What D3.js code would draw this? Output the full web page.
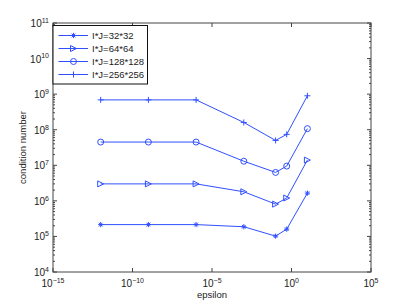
<!DOCTYPE html>
<html>
<head>
<meta charset="utf-8">
<script src="https://cdn.jsdelivr.net/npm/d3@7"></script>
<style>
  body { margin: 0; background: #fff; }
  text { font-family: "Liberation Sans", Arial, sans-serif; }
</style>
</head>
<body>
<div id="chart"></div>
<script>
// epsilon values shared by every series
var epsilon = [1e-12, 1e-9, 1e-6, 1e-3, 1e-1, 0.5, 10];

// condition number per grid size
var cond_32 = [2.15e5, 2.15e5, 2.15e5, 1.87e5, 1.02e5, 1.6e5, 1.65e6];
var cond_64 = [3.0e6, 3.0e6, 3.0e6, 1.8e6, 8.1e5, 1.2e6, 1.4e7];
var cond_128 = [4.5e7, 4.5e7, 4.5e7, 1.3e7, 6.3e6, 9.5e6, 1.07e8];
var cond_256 = [6.9e8, 6.9e8, 6.9e8, 1.6e8, 5.0e7, 7.4e7, 9.0e8];

var series_labels = ['I*J=32*32', 'I*J=64*64', 'I*J=128*128', 'I*J=256*256'];
var series_markers = ['star', 'triangle', 'circle', 'plus'];

var x_ticks = [1e-15, 1e-10, 1e-5, 1e0, 1e5];
var y_ticks = [1e4, 1e5, 1e6, 1e7, 1e8, 1e9, 1e10, 1e11];

var W = 409, H = 307;
var margin = { left: 53, right: 38, top: 23, bottom: 35 };
var plot_w = W - margin.left - margin.right;
var plot_h = H - margin.top - margin.bottom;
var line_color = '#3050ff';
var axis_color = '#444';

var svg = d3.select('#chart').append('svg')
  .attr('width', W).attr('height', H);
var g = svg.append('g')
  .attr('transform', 'translate(' + margin.left + ',' + margin.top + ')');

var x = d3.scaleLog().domain([1e-15, 1e5]).range([0, plot_w]);
var y = d3.scaleLog().domain([1e4, 1e11]).range([plot_h, 0]);

// Superscript label like 10^-5
function pow_label(sel, v){
  var e = Math.round(Math.log10(v));
  sel.text(null);
  sel.append('tspan').text('10');
  sel.append('tspan')
    .attr('dy', '-0.6em')
    .style('font-size', '7px')
    .text(e < 0 ? '\u2212' + (-e) : e);
}

// Minor tick values for y (2..9 per decade)
var y_minor = [];
for( var d = 4; d < 11; d++ ){
  for( var k = 2; k < 10; k++ ){ y_minor.push(k * Math.pow(10, d)); }
}

// Axis box
g.append('rect')
  .attr('width', plot_w).attr('height', plot_h)
  .attr('fill', 'none').attr('stroke', axis_color).attr('stroke-width', 1);

// Y ticks, left and right, pointing in
var tick_g = g.append('g').attr('stroke', axis_color).attr('stroke-width', 1);
y_ticks.forEach(function(v){
  tick_g.append('line').attr('x1', 0).attr('x2', 4).attr('y1', y(v)).attr('y2', y(v));
  tick_g.append('line').attr('x1', plot_w).attr('x2', plot_w - 4).attr('y1', y(v)).attr('y2', y(v));
});
y_minor.forEach(function(v){
  tick_g.append('line').attr('x1', 0).attr('x2', 2).attr('y1', y(v)).attr('y2', y(v));
  tick_g.append('line').attr('x1', plot_w).attr('x2', plot_w - 2).attr('y1', y(v)).attr('y2', y(v));
});
x_ticks.forEach(function(v){
  tick_g.append('line').attr('x1', x(v)).attr('x2', x(v)).attr('y1', plot_h).attr('y2', plot_h - 4);
  tick_g.append('line').attr('x1', x(v)).attr('x2', x(v)).attr('y1', 0).attr('y2', 4);
});

// Tick labels
g.selectAll('.ylab').data(y_ticks).enter().append('text')
  .attr('class', 'ylab')
  .attr('x', -4).attr('y', function(d){ return y(d) + 4; })
  .attr('text-anchor', 'end')
  .style('font-size', '10px').attr('fill', '#222')
  .each(function(d){ pow_label(d3.select(this), d); });

g.selectAll('.xlab').data(x_ticks).enter().append('text')
  .attr('class', 'xlab')
  .attr('x', function(d){ return x(d); }).attr('y', plot_h + 15)
  .attr('text-anchor', 'middle')
  .style('font-size', '10px').attr('fill', '#222')
  .each(function(d){ pow_label(d3.select(this), d); });

// Axis titles
g.append('text')
  .attr('x', plot_w / 2).attr('y', plot_h + 26)
  .attr('text-anchor', 'middle').style('font-size', '9.5px').attr('fill', '#222')
  .text('epsilon');
g.append('text')
  .attr('transform', 'translate(' + (-27) + ',' + (plot_h / 2) + ') rotate(-90)')
  .attr('text-anchor', 'middle').style('font-size', '9.5px').attr('fill', '#222')
  .text('condition number');

// Marker drawing
function draw_marker(sel, type, cx, cy){
  var s = 3;
  if( type == 'star' ){
    var t = 2.6;
    [[-t,0,t,0],[0,-t,0,t],[-t*0.7,-t*0.7,t*0.7,t*0.7],[-t*0.7,t*0.7,t*0.7,-t*0.7]].forEach(function(l){
      sel.append('line').attr('x1', cx+l[0]).attr('y1', cy+l[1]).attr('x2', cx+l[2]).attr('y2', cy+l[3]);
    });
  } else if( type == 'plus' ){
    sel.append('line').attr('x1', cx-s).attr('x2', cx+s).attr('y1', cy).attr('y2', cy);
    sel.append('line').attr('x1', cx).attr('x2', cx).attr('y1', cy-s).attr('y2', cy+s);
  } else if( type == 'circle' ){
    sel.append('circle').attr('cx', cx).attr('cy', cy).attr('r', s).attr('fill', 'none');
  } else if( type == 'triangle' ){
    sel.append('path')
      .attr('d', 'M' + (cx-s) + ',' + (cy-s) + 'L' + (cx+s) + ',' + cy + 'L' + (cx-s) + ',' + (cy+s) + 'Z')
      .attr('fill', 'none');
  }
}

var all_series = [cond_32, cond_64, cond_128, cond_256];
var line = d3.line()
  .x(function(d){ return x(d[0]); })
  .y(function(d){ return y(d[1]); });

all_series.forEach(function(vals, i){
  var pts = d3.zip(epsilon, vals);
  var sg = g.append('g').attr('stroke', line_color).attr('stroke-width', 1).attr('fill', 'none');
  sg.append('path').attr('d', line(pts));
  pts.forEach(function(p){ draw_marker(sg, series_markers[i], x(p[0]), y(p[1])); });
});

// Legend
var leg = g.append('g').attr('transform', 'translate(0,2.5)');
leg.append('rect')
  .attr('width', 94.5).attr('height', 58.5)
  .attr('fill', '#fff').attr('stroke', '#111').attr('stroke-width', 1);
series_labels.forEach(function(lab, i){
  var ly = 10 + i * 13;
  var lg = leg.append('g').attr('stroke', line_color).attr('stroke-width', 1).attr('fill', 'none');
  lg.append('line').attr('x1', 5.5).attr('x2', 35).attr('y1', ly).attr('y2', ly);
  draw_marker(lg, series_markers[i], 20.5, ly);
  leg.append('text')
    .attr('x', 39).attr('y', ly + 3.4)
    .style('font-size', '9.5px').attr('fill', '#222')
    .text(lab);
});
</script>
</body>
</html>
